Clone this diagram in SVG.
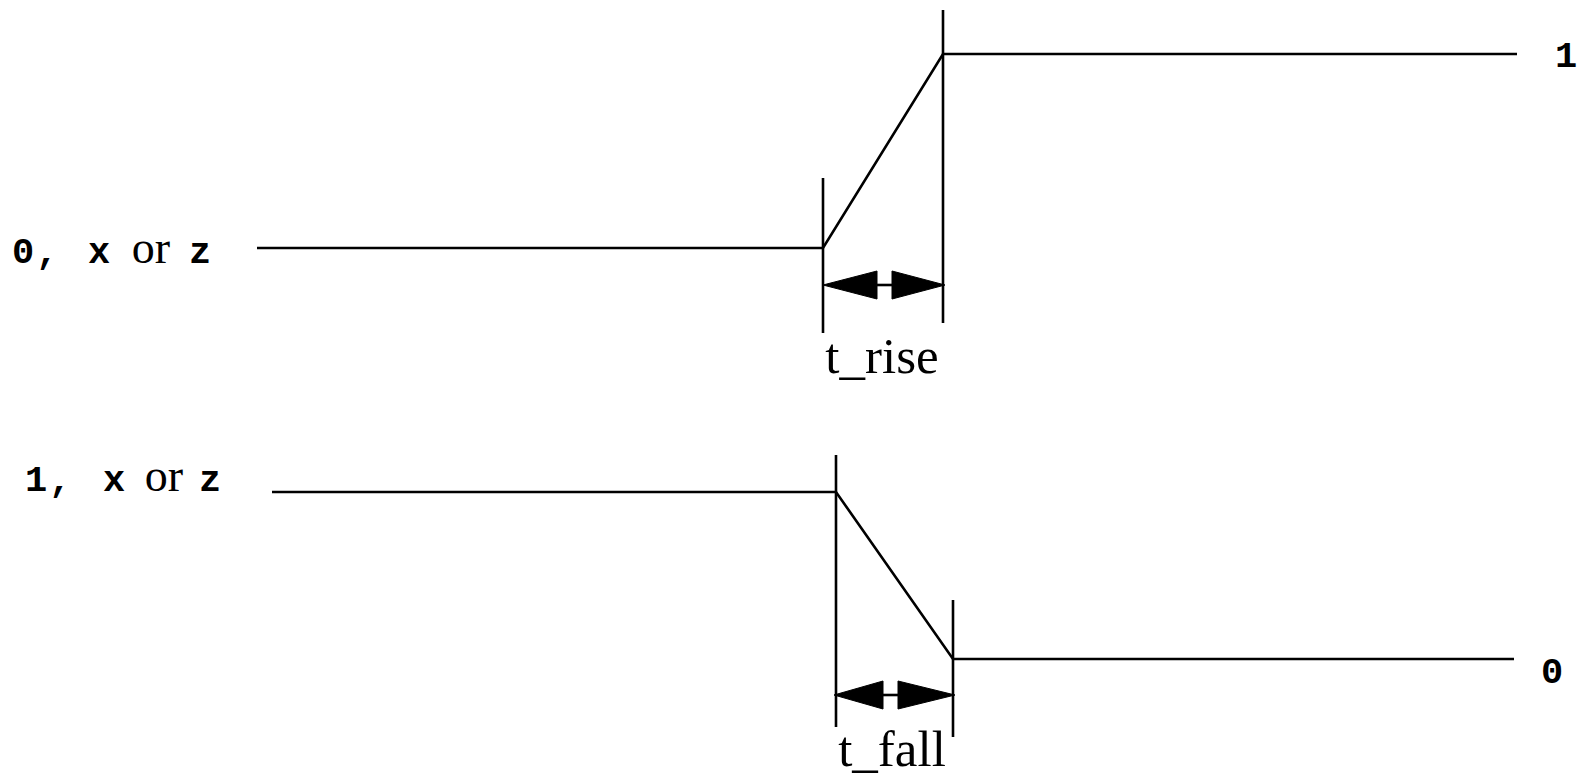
<svg xmlns="http://www.w3.org/2000/svg" width="1582" height="774" viewBox="0 0 1582 774">
<style>
.w{fill:none;stroke:#000;stroke-width:2.6;stroke-linecap:butt}
.m{font-family:"Liberation Mono","Courier New",monospace;font-weight:bold;font-size:37px;text-anchor:middle;fill:#000}
.s{font-family:"Liberation Serif","Times New Roman",serif;font-size:46px;text-anchor:middle;fill:#000}
.t{font-family:"Liberation Serif","Times New Roman",serif;font-size:51px;text-anchor:middle;fill:#000}
.a{fill:#000;stroke:#000;stroke-width:1}
</style>
<rect width="1582" height="774" fill="#fff"/>
<g id="labels">
<g id="label-top-left">
<text class="m" x="23" y="263">0</text><text class="m" x="47" y="263">,</text><text class="m" x="99" y="263">x</text><text class="s" x="151" y="263">or</text><text class="m" x="200" y="263">z</text>
</g>
<g id="label-bottom-left">
<text class="m" x="36" y="491">1</text><text class="m" x="60" y="491">,</text><text class="m" x="114" y="491">x</text><text class="s" x="164" y="491">or</text><text class="m" x="210" y="491">z</text>
</g>
<text id="label-top-right" class="m" x="1566" y="67">1</text>
<text id="label-bottom-right" class="m" x="1552" y="683">0</text>
<text id="label-rise" class="t" x="882" y="373">t_rise</text>
<text id="label-fall" class="t" x="892" y="766">t_fall</text>
</g>
<g id="connectors">
<g id="rise-wave">
<polyline class="w" points="257,248 823,248 943,54 1517,54"/>
<line class="w" x1="823" y1="178" x2="823" y2="333"/>
<line class="w" x1="943" y1="10" x2="943" y2="323"/>
<polygon class="a" points="823,285 877,271 877,299"/>
<line class="w" x1="877" y1="285" x2="892" y2="285"/>
<polygon class="a" points="945,285 892,271 892,299"/>
</g>
<g id="fall-wave">
<polyline class="w" points="272,492 836,492 953,659 1514,659"/>
<line class="w" x1="836" y1="455" x2="836" y2="727"/>
<line class="w" x1="953" y1="600" x2="953" y2="737"/>
<polygon class="a" points="834,695 883,681 883,709"/>
<line class="w" x1="883" y1="695" x2="898" y2="695"/>
<polygon class="a" points="955,695 898,681 898,709"/>
</g>
</g>
</svg>
